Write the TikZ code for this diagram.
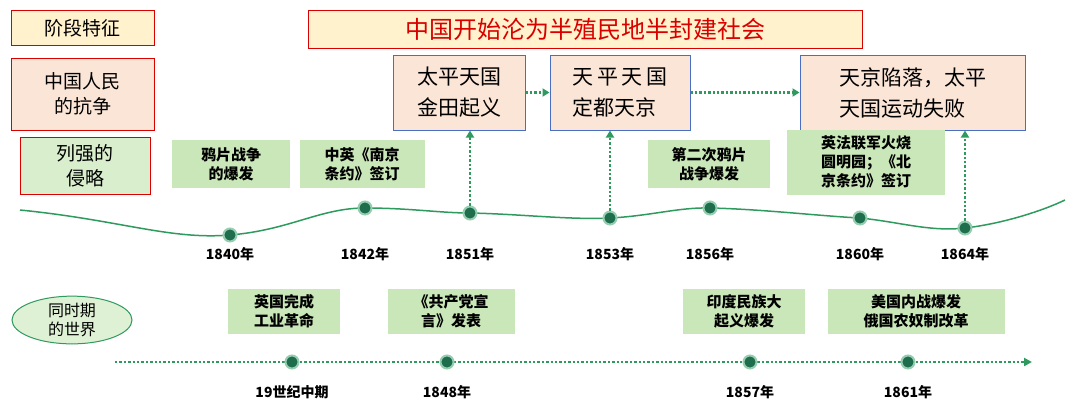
\documentclass[tikz,border=0pt]{standalone}
\usepackage{fontspec}
\newfontfamily\cjk{Noto Sans CJK SC}
\usetikzlibrary{arrows.meta,shapes.geometric}
\definecolor{lg}{HTML}{C9E7B8}
\definecolor{ly}{HTML}{FFF2CC}
\definecolor{pe}{HTML}{FBE5D6}
\definecolor{gr}{HTML}{2E9A5E}
\definecolor{dk}{HTML}{1E6E4E}
\definecolor{bl}{HTML}{4A6FC2}
\begin{document}
\begin{tikzpicture}[x=1pt,y=-1pt,font=\cjk,
 side/.style={draw=red!85!black,line width=1pt,align=center,inner sep=0pt,font=\cjk\fontsize{19}{25}\selectfont},
 ev/.style={draw=bl,fill=pe,line width=1pt,align=left,inner sep=0pt,font=\cjk\fontsize{21}{31}\selectfont},
 gl/.style={fill=lg,align=center,inner sep=0pt,font=\cjk\bfseries\fontsize{15}{19}\selectfont},
 dot/.style={circle,fill=dk,draw=gr!50,line width=2pt,minimum size=13pt,inner sep=0pt},
 yr/.style={font=\cjk\bfseries\fontsize{14}{16}\selectfont},
 darr/.style={gr,line width=2.4pt,dotted,-{Triangle[length=7pt,width=8pt]}}]
\useasboundingbox (0,0) rectangle (1080,408);
\node[side,fill=ly,minimum width=143,minimum height=35] (s1) at (83,28) {阶段特征};
\node[side,fill=pe,minimum width=143,minimum height=72] (s2) at (83,94) {中国人民\\的抗争};
\node[side,fill=lg!70,minimum width=130,minimum height=57] (s3) at (85,166) {列强的\\侵略};
\node[draw=red!85!black,line width=1pt,fill=ly,minimum width=554,minimum height=38,inner sep=0pt,text=red!85!black,font=\cjk\fontsize{24}{28}\selectfont] (t) at (585,29) {中国开始沦为半殖民地半封建社会};
\node[ev,minimum width=132,minimum height=75] (e1) at (459,92.5) {太平天国\\金田起义};
\node[ev,minimum width=140,minimum height=75] (e2) at (620,92.5) {天\,平\,天\,国\\定都天京};
\node[ev,minimum width=225,minimum height=75] (e3) at (912.5,92.5) {天京陷落，太平\\天国运动失败};
\draw[darr] (e1.east) -- (e2.west);
\draw[darr] (e2.east) -- (e3.west);
\node[gl,minimum width=118,minimum height=48] at (231,164) {鸦片战争\\的爆发};
\node[gl,minimum width=125,minimum height=48] at (362,164) {中英《南京\\条约》签订};
\node[gl,minimum width=122,minimum height=48] at (709,164) {第二次鸦片\\战争爆发};
\node[gl,minimum width=158,minimum height=65] at (866,162) {英法联军火烧\\圆明园；《北\\京条约》签订};
\draw[gr,line width=1.5pt] (20,210) .. controls (120,220) and (170,240) .. (230,235) .. controls (290,230) and (320,208) .. (365,208) .. controls (410,208) and (440,213) .. (470,213) .. controls (520,214) and (570,220) .. (610,218) .. controls (650,216) and (680,207) .. (710,208) .. controls (760,209) and (820,216) .. (860,218) .. controls (900,222) and (930,232) .. (965,228) .. controls (1000,224) and (1040,212) .. (1065,200);
\foreach \x/\y/\t/\n in {230/235/1840/a,365/208/1842/b,470/213/1851/c,610/218/1853/d,710/208/1856/e,860/218/1860/f,965/228/1864/g}{
 \node[dot] (\n) at (\x,\y) {};
 \node[yr] at (\x,254) {\t 年};}
\draw[darr] (c) -- (e1.south-|c);
\draw[darr] (d) -- (e2.south-|d);
\draw[darr] (g) -- (e3.south-|g);
\node[ellipse,draw=gr,line width=1pt,fill=lg!60,minimum width=120,minimum height=45,inner sep=0pt,align=center,font=\cjk\fontsize{16}{19}\selectfont] (w) at (72,320) {同时期\\的世界};
\node[gl,minimum width=112,minimum height=45] at (284,311) {英国完成\\工业革命};
\node[gl,minimum width=127,minimum height=45] at (451,311) {《共产党宣\\言》发表};
\node[gl,minimum width=122,minimum height=45] at (744,311) {印度民族大\\起义爆发};
\node[gl,minimum width=177,minimum height=45] at (916,311) {美国内战爆发\\俄国农奴制改革};
\coordinate (l0) at (115,362); \coordinate (l1) at (1032,362);
\draw[gr,line width=2.4pt,dotted,-{Triangle[length=8pt,width=8pt]}] (l0) -- (l1);
\foreach \x/\t/\n in {292/19世纪中期/p,447/1848年/q,750/1857年/r,908/1861年/s}{
 \node[dot] (\n) at (\x,362) {};
 \node[yr] at (\x,392) {\t};}
\end{tikzpicture}
\end{document}
